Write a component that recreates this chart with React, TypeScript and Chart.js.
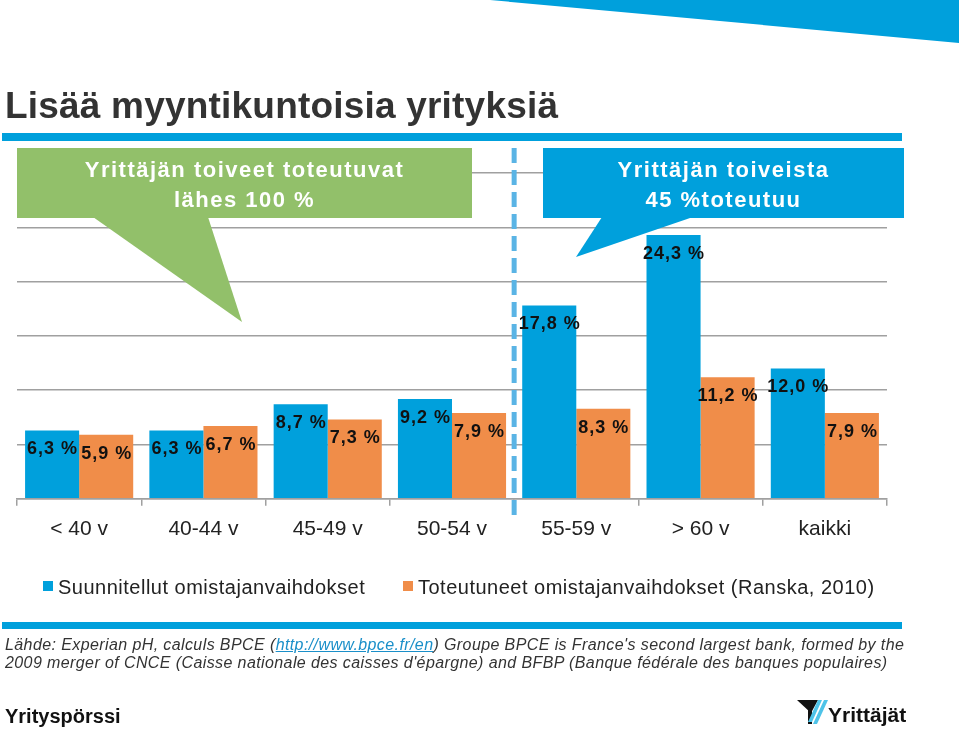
import React, { useEffect, useRef } from 'react';
import { Chart, registerables } from 'chart.js';

Chart.register(...registerables);

const categories = ['< 40 v', '40-44 v', '45-49 v', '50-54 v', '55-59 v', '> 60 v', 'kaikki'];
const plannedValues = [6.3, 6.3, 8.7, 9.2, 17.8, 24.3, 12.0];
const realizedValues = [5.9, 6.7, 7.3, 7.9, 8.3, 11.2, 7.9];
const seriesNames = ['Suunnitellut omistajanvaihdokset', 'Toteutuneet omistajanvaihdokset (Ranska, 2010)'];
const yMin = 0;
const yMax = 30;
const yStep = 5;

const BLUE = '#00a0dc';
const ORANGE = '#f08d49';
const GREEN = '#92c06a';
const FONT = '"Liberation Sans", Arial, sans-serif';

const fmt = (v: number) => v.toFixed(1).replace('.', ',') + ' %';

const overlayPlugin = {
  id: 'overlay',
  afterDatasetsDraw(chart: any) {
    const ctx = chart.ctx as CanvasRenderingContext2D;
    ctx.save();
    ctx.font = 'bold 18px ' + FONT;
    (ctx as any).letterSpacing = '1px';
    ctx.fillStyle = '#111';
    ctx.textAlign = 'center';
    ctx.textBaseline = 'middle';
    chart.data.datasets.forEach((ds: any, di: number) => {
      chart.getDatasetMeta(di).data.forEach((bar: any, i: number) => {
        ctx.fillText(fmt(ds.data[i]), bar.x + 0.5, bar.y + 19);
      });
    });
    (ctx as any).letterSpacing = '0px';
    const xs = chart.scales.x;
    const xd = (xs.getPixelForValue(3) + xs.getPixelForValue(4)) / 2;
    const area = chart.chartArea;
    ctx.setLineDash([15, 7]);
    ctx.strokeStyle = '#5ab4e5';
    ctx.lineWidth = 5;
    ctx.beginPath();
    ctx.moveTo(xd, area.top - 25);
    ctx.lineTo(xd, area.bottom + 20);
    ctx.stroke();
    ctx.restore();
  },
};

export default function App() {
  const canvasRef = useRef<HTMLCanvasElement | null>(null);

  useEffect(() => {
    if (!canvasRef.current) return;
    const chart = new Chart(canvasRef.current, {
      type: 'bar',
      data: {
        labels: categories,
        datasets: [
          { label: seriesNames[0], data: plannedValues, backgroundColor: BLUE, categoryPercentage: 0.87, barPercentage: 1 },
          { label: seriesNames[1], data: realizedValues, backgroundColor: ORANGE, categoryPercentage: 0.87, barPercentage: 1 },
        ],
      },
      options: {
        responsive: false,
        animation: false,
        devicePixelRatio: 1,
        layout: { padding: { left: 17, right: 72, top: 173, bottom: 177 } },
        plugins: { legend: { display: false }, tooltip: { enabled: false } },
        scales: {
          x: {
            grid: { display: true, drawOnChartArea: false, drawTicks: true, tickLength: 7, color: '#a0a0a0', lineWidth: 1.5 },
            border: { display: true, color: '#a0a0a0', width: 1.5 },
            ticks: { color: '#222', padding: 11, font: { family: FONT, size: 21 } },
          },
          y: {
            min: yMin,
            max: yMax,
            ticks: { display: false, stepSize: yStep },
            grid: { color: '#a0a0a0', lineWidth: 1.5, drawTicks: false },
            border: { display: false },
          },
        },
      },
      plugins: [overlayPlugin],
    });
    return () => chart.destroy();
  }, []);

  const abs = (s: React.CSSProperties): React.CSSProperties => ({ position: 'absolute', ...s });

  return (
    <div style={{ position: 'absolute', left: 0, top: 0, width: 959, height: 730, background: '#fff', overflow: 'hidden', fontFamily: FONT }}>
      <canvas ref={canvasRef} width={959} height={730} style={abs({ left: 0, top: 0, width: 959, height: 730 })} />
      <svg width={959} height={730} style={abs({ left: 0, top: 0 })}>
        <polygon points="490,0 959,0 959,43" fill={BLUE} />
        <rect x={2} y={133} width={900} height={8} fill={BLUE} />
        <rect x={2} y={622} width={900} height={7} fill={BLUE} />
        <rect x={17} y={148} width={455} height={70} fill={GREEN} />
        <polygon points="93,217 208,217 242,322" fill={GREEN} />
        <rect x={543} y={148} width={361} height={70} fill={BLUE} />
        <polygon points="602,217 693,217 576,257" fill={BLUE} />
        <polygon points="797,700 818,700 811,713" fill="#111" />
        <polygon points="808,710 812,704 812,724 808,724" fill="#111" />
        <polygon points="818,700 822,700 812,722 808,722" fill="#4ec3e8" />
        <polygon points="824,700 828,700 817,724 813,724" fill="#4ec3e8" />
      </svg>
      <div style={abs({ left: 5, top: 87, fontSize: 37, lineHeight: '37px', fontWeight: 'bold', color: '#333', whiteSpace: 'nowrap', letterSpacing: 0.2 })}>
        Lisää myyntikuntoisia yrityksiä
      </div>
      <div style={abs({ left: 17, top: 155, width: 455, textAlign: 'center', color: '#fff', fontWeight: 'bold', fontSize: 22, lineHeight: '30px', letterSpacing: 1.5 })}>
        Yrittäjän toiveet toteutuvat<br />lähes 100 %
      </div>
      <div style={abs({ left: 543, top: 155, width: 361, textAlign: 'center', color: '#fff', fontWeight: 'bold', fontSize: 22, lineHeight: '30px', letterSpacing: 1.5 })}>
        Yrittäjän toiveista<br />45 %toteutuu
      </div>
      <div style={abs({ left: 43, top: 581, width: 10, height: 10, background: BLUE })} />
      <div style={abs({ left: 58, top: 577, fontSize: 20, lineHeight: '20px', color: '#222', letterSpacing: 0.5, whiteSpace: 'nowrap' })}>{seriesNames[0]}</div>
      <div style={abs({ left: 403, top: 581, width: 10, height: 10, background: ORANGE })} />
      <div style={abs({ left: 418, top: 577, fontSize: 20, lineHeight: '20px', color: '#222', letterSpacing: 0.5, whiteSpace: 'nowrap' })}>{seriesNames[1]}</div>
      <div style={abs({ left: 5, top: 636, fontSize: 16, lineHeight: '18px', fontStyle: 'italic', color: '#333', letterSpacing: 0.4, whiteSpace: 'nowrap' })}>
        Lähde: Experian pH, calculs BPCE (<span style={{ color: '#1a8fc9', textDecoration: 'underline' }}>http://www.bpce.fr/en</span>) Groupe BPCE is France's second largest bank, formed by the<br />
        2009 merger of CNCE (Caisse nationale des caisses d'épargne) and BFBP (Banque fédérale des banques populaires)
      </div>
      <div style={abs({ left: 5, top: 705, fontSize: 20, lineHeight: '22px', fontWeight: 'bold', color: '#111', whiteSpace: 'nowrap' })}>Yrityspörssi</div>
      <div style={abs({ left: 828, top: 703, fontSize: 21, lineHeight: '24px', fontWeight: 'bold', color: '#111', whiteSpace: 'nowrap' })}>Yrittäjät</div>
    </div>
  );
}
